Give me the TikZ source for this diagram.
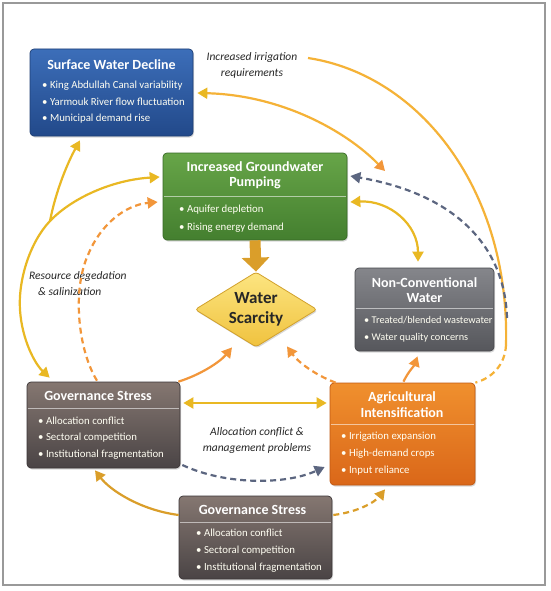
\documentclass[tikz,border=0pt]{standalone}
\usepackage{fontspec}
\setmainfont{Carlito}
\usetikzlibrary{arrows.meta,shapes.geometric,shadows,calc}
\definecolor{bluT}{HTML}{3C6EB9}
\definecolor{bluB}{HTML}{22498A}
\definecolor{bluD}{HTML}{1D3E74}
\definecolor{grnT}{HTML}{67A548}
\definecolor{grnB}{HTML}{447F2F}
\definecolor{grnD}{HTML}{386A26}
\definecolor{dmT}{HTML}{FCE581}
\definecolor{dmB}{HTML}{F0C23E}
\definecolor{dmD}{HTML}{D2A12C}
\definecolor{ncT}{HTML}{85868B}
\definecolor{ncB}{HTML}{56575C}
\definecolor{ncD}{HTML}{46474B}
\definecolor{gvT}{HTML}{857771}
\definecolor{gvB}{HTML}{4A4445}
\definecolor{gvD}{HTML}{3B3536}
\definecolor{agT}{HTML}{F0902E}
\definecolor{agB}{HTML}{DA6719}
\definecolor{agD}{HTML}{C05812}
\definecolor{yel}{HTML}{E9B823}
\definecolor{gold}{HTML}{DA9E2A}
\definecolor{org}{HTML}{F2963A}
\definecolor{arcc}{HTML}{F5B237}
\definecolor{gry}{HTML}{5C6680}
\definecolor{blk}{HTML}{262626}
\begin{document}
\begin{tikzpicture}[x=1pt,y=-1pt,
  >={Triangle[length=10pt,width=11pt]},
  box/.style={rounded corners=4pt, line width=0.7pt, inner sep=0pt,
    drop shadow={opacity=0.3,shadow xshift=1pt,shadow yshift=-1.5pt}},
  ttl/.style={text=white, font=\bfseries\fontsize{14}{15.5}\selectfont, align=center, inner sep=0pt},
  bul/.style={anchor=west, text=white!95!yellow, font=\fontsize{10.8}{13}\selectfont,
    inner sep=0pt, text height=7.6pt, text depth=2.4pt},
  sbul/.style={bul, font=\fontsize{10.3}{13}\selectfont},
  sepl/.style={draw=white, opacity=0.55, line width=0.9pt},
  lab/.style={font=\itshape\fontsize{11.5}{16}\selectfont, text=blk, inner sep=0pt},
  sol/.style={line width=2.2pt},
  dsh/.style={line width=2.2pt, dash pattern=on 6pt off 4pt},
]
\useasboundingbox (0,0) rectangle (550,591);
\fill[white] (0,0) rectangle (550,591);
\draw[draw=black!40, line width=1.2pt] (3,3) rectangle (545,585);

% Surface Water Decline
\node[box, draw=bluD, top color=bluT, bottom color=bluB, minimum width=163pt, minimum height=87pt] (sw) at (111.5,92.5) {};
\node[ttl] (swt) at (111.5,65) {Surface Water Decline};
\node[bul] (sw1) at (42,86) {• King Abdullah Canal variability};
\node[bul] (sw2) at (42,102.5) {• Yarmouk River flow fluctuation};
\node[bul] (sw3) at (42,119) {• Municipal demand rise};

% Increased Groundwater Pumping
\node[box, draw=grnD, top color=grnT, bottom color=grnB, minimum width=184pt, minimum height=87pt] (gw) at (255,196.5) {};
\node[ttl] (gwt) at (255,175.5) {Increased Groundwater\\Pumping};
\draw[sepl] ($(gw.west)+(1,-0.5)$) -- ($(gw.east)+(-1,-0.5)$);
\node[bul] (gw1) at (179,210) {• Aquifer depletion};
\node[bul] (gw2) at (179,227.5) {• Rising energy demand};

% Water Scarcity
\node[shape=diamond, aspect=1.63, minimum width=122pt, minimum height=75pt, inner sep=0pt,
  draw=dmD, line width=0.8pt, top color=dmT, bottom color=dmB, rounded corners=3pt,
  drop shadow={opacity=0.3,shadow xshift=1pt,shadow yshift=-1.5pt},
  font=\bfseries\fontsize{17}{20}\selectfont, text=blk, align=center] (ws) at (256,309.5) {Water\\Scarcity};

% Non-Conventional Water
\node[box, draw=ncD, top color=ncT, bottom color=ncB, minimum width=139pt, minimum height=83pt] (nc) at (424.5,309.5) {};
\node[ttl] (nct) at (424.5,290) {Non-Conventional\\Water};
\draw[sepl] ($(nc.west)+(1,-1.5)$) -- ($(nc.east)+(-1,-1.5)$);
\node[sbul] (nc1) at (364,321) {• Treated/blended wastewater};
\node[sbul] (nc2) at (364,338) {• Water quality concerns};

% Governance Stress (left)
\node[box, draw=gvD, top color=gvT, bottom color=gvB, minimum width=153pt, minimum height=86pt] (gl) at (103.5,425) {};
\node[ttl] (glt) at (98,396) {Governance Stress};
\draw[sepl] ($(gl.west)+(1,-17)$) -- ($(gl.east)+(-1,-17)$);
\node[bul] (gl1) at (38,421.5) {• Allocation conflict};
\node[bul] (gl2) at (38,438) {• Sectoral competition};
\node[bul] (gl3) at (38,455) {• Institutional fragmentation};

% Agricultural Intensification
\node[box, draw=agD, top color=agT, bottom color=agB, minimum width=145pt, minimum height=102pt] (ag) at (402.5,434) {};
\node[ttl] (agt) at (402,404.5) {Agricultural\\Intensification};
\draw[sepl] ($(ag.west)+(1,-10)$) -- ($(ag.east)+(-1,-10)$);
\node[bul] (ag1) at (341,437) {• Irrigation expansion};
\node[bul] (ag2) at (341,454) {• High-demand crops};
\node[bul] (ag3) at (341,471) {• Input reliance};

% Governance Stress (bottom)
\node[box, draw=gvD, top color=gvT, bottom color=gvB, minimum width=153pt, minimum height=83pt] (gb) at (255.5,537.5) {};
\node[ttl] (gbt) at (252.5,509.5) {Governance Stress};
\draw[sepl] ($(gb.west)+(1,-15.5)$) -- ($(gb.east)+(-1,-15.5)$);
\node[bul] (gb1) at (196,534) {• Allocation conflict};
\node[bul] (gb2) at (196,551) {• Sectoral competition};
\node[bul] (gb3) at (196,567.5) {• Institutional fragmentation};

% labels
\node[lab, align=center] (irr) at (252,65) {Increased irrigation\\requirements};
\node[lab, align=left, anchor=west] (res) at (29,283.5) {Resource degedation\\\hspace*{9pt}\& salinization};
\node[lab, align=center] (alloc) at (257,440) {Allocation conflict \&\\management problems};

% coordinates
\coordinate (br) at (50,221);
\coordinate (a3e) at (385,171);
\coordinate (l1e) at (308,58);
\coordinate (a4m) at (506,345);
\coordinate (a5s) at (507,318);

% left big arc Groundwater <-> Governance
\draw[sol, draw=yel, <->] ($(gw.west)+(-3,-19.5)$) .. controls (112,180) and (72,198) .. (br)
  .. controls (30,242) and (18,280) .. (20,310) .. controls (22,340) and (35,364) .. ($(gl.north west)+(23,-4)$);
% branch to Surface Water
\draw[sol, draw=yel, ->] (br) .. controls (56,190) and (68,162) .. ($(sw.south)+(-31.5,4)$);
% dashed resource degradation
\draw[dsh, draw=org, ->] ($(gl.north)+(-6.5,-1)$) .. controls (78,350) and (72,290) .. (88,255)
  .. controls (100,225) and (125,205) .. ($(gw.west)+(-5,5.5)$);
% Surface water <-> (orange)
\draw[sol, draw=arcc, {Triangle[length=10pt,width=11pt,color=yel]}-{Triangle[length=10pt,width=11pt,color=org]}]
  ($(sw.east)+(4,0.5)$) .. controls (280,95) and (345,130) .. (a3e);
% big outer arc
\draw[sol, draw=arcc] (l1e) .. controls (420,75) and (510,190) .. (a4m);
\draw[dsh, draw=arcc] (a4m) .. controls (505,365) and (492,378) .. (ag.north east);
% gray dashed to groundwater
\draw[dsh, draw=gry, ->] (a5s) .. controls (505,250) and (460,195) .. ($(gw.east)+(3,-20.5)$);
% groundwater <-> non-conventional
\draw[sol, draw=yel, <->] ($(gw.east)+(3,5.5)$) .. controls (390,200) and (418,225) .. ($(nc.north)+(-6.5,-6)$);
% block arrow
\draw[draw=gold, line width=11pt, -{Triangle[length=14pt,width=27pt]}] (gw.south) -- (ws.north);
% agri -> non-conventional
\draw[sol, draw=org, ->] ($(ag.north)+(1,-1)$) .. controls (408,372) and (414,366) .. ($(nc.south)+(-7,5)$);
% agri -> scarcity dashed
\draw[dsh, draw=org, ->] ($(ag.north west)+(6,0)$) .. controls (315,375) and (298,362) .. ($(ws.south)+(31,-1)$);
% governance -> scarcity
\draw[sol, draw=org, ->] ($(gl.north east)+(-2,0)$) .. controls (200,375) and (220,362) .. ($(ws.south)+(-24,0)$);
% governance <-> agri
\draw[sol, draw=yel, <->] ($(gl.east)+(3,-22)$) -- ($(ag.west)+(-3,-31)$);
% gray dashed governance -> agri
\draw[dsh, draw=gry, ->] ($(gl.east)+(2,40)$) .. controls (225,485) and (285,485) .. ($(ag.west)+(-5,33)$);
% bottom governance -> left governance
\draw[sol, draw=gold, ->] ($(gb.west)+(0,-22.5)$) .. controls (140,510) and (110,490) .. ($(gl.south)+(-8.5,2)$);
% bottom governance -> agri dashed
\draw[dsh, draw=gold, ->] ($(gb.east)+(1,-22.5)$) .. controls (358,512) and (375,502) .. ($(ag.south)+(-17.5,4)$);
\end{tikzpicture}
\end{document}
